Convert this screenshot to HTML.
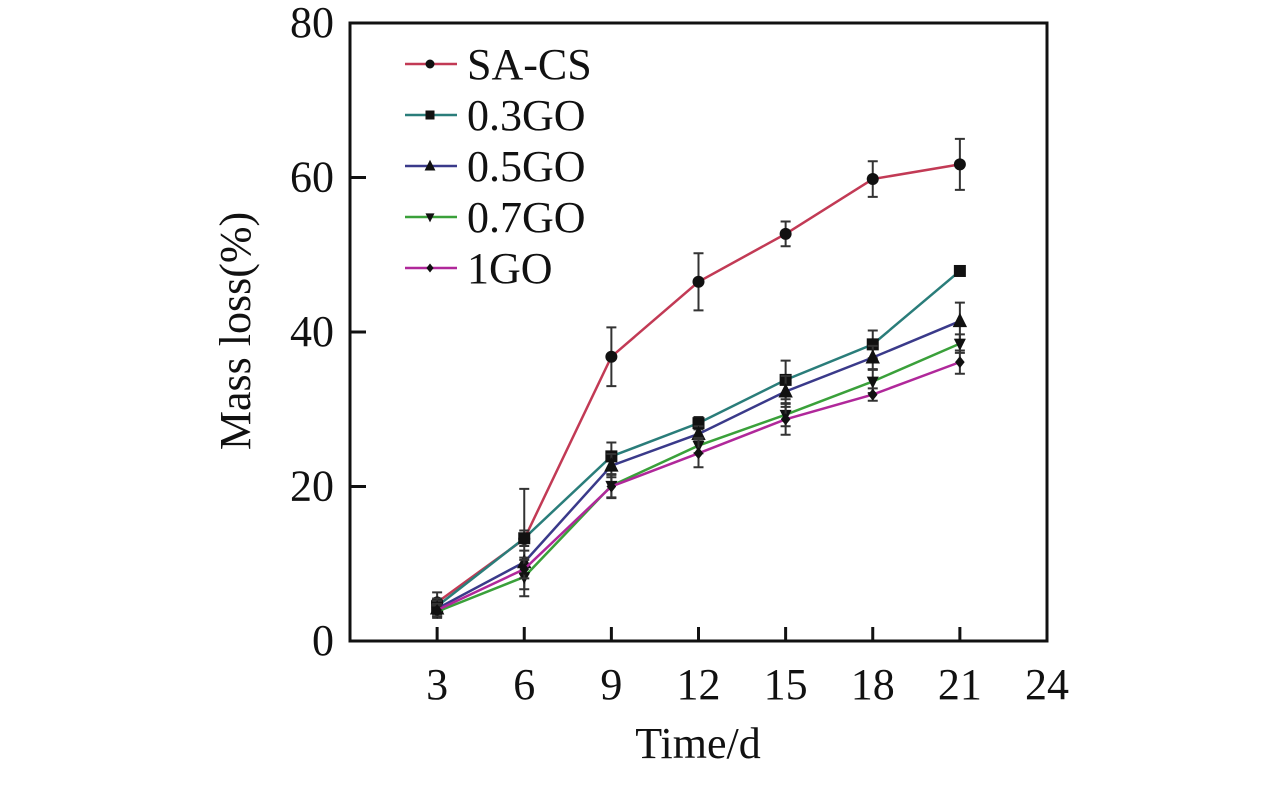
<!DOCTYPE html>
<html><head><meta charset="utf-8"><style>
body{margin:0;background:#fff;}
svg text{font-family:"Liberation Serif",serif;fill:#111;}
</style></head><body>
<svg id="chart" width="1276" height="787" viewBox="0 0 1276 787" xmlns="http://www.w3.org/2000/svg">
<rect x="350" y="23" width="697" height="618" fill="none" stroke="#111" stroke-width="3"/>
<g id="axes"></g>
<g id="series"></g>
<g id="legend"></g>
<text x="698" y="758" font-size="44" text-anchor="middle">Time/d</text>
<text transform="translate(250,331) rotate(-90)" font-size="44" text-anchor="middle">Mass loss(%)</text>
</svg>
<script>
const categories=[3,6,9,12,15,18,21];
const xTicks=[3,6,9,12,15,18,21,24];
const yTicks=[0,20,40,60,80];
const seriesNames=["SA-CS","0.3GO","0.5GO","0.7GO","1GO"];
const saCs=[5.0,13.2,36.8,46.5,52.7,59.8,61.7];
const go03=[4.5,13.3,23.9,28.2,33.8,38.4,47.9];
const go05=[4.2,10.2,22.7,26.8,32.3,36.7,41.4];
const go07=[3.8,8.3,20.1,25.3,29.3,33.6,38.5];
const go1=[4.0,9.3,20.0,24.3,28.7,31.9,36.1];
const errSaCs=[1.3,6.5,3.8,3.7,1.6,2.3,3.3];
const err03=[1.0,1.0,1.8,0.8,2.5,1.8,0.3];
const err05=[1.0,1.5,1.5,1.0,2.0,1.5,2.4];
const err07=[0.8,2.5,1.5,1.0,1.5,1.5,1.2];
const err1=[0.8,1.2,1.5,1.8,2.0,0.8,1.5];
const colors=["#c23a55","#2a7d7a","#3a3a8a","#3aa03a","#b0289a"];
const markers=["circle","square","up","down","diamond"];
const allVals=[saCs,go03,go05,go07,go1];
const allErr=[errSaCs,err03,err05,err07,err1];
const X=v=>350+v*(697/24);
const Y=v=>641-v*(618/80);
const NS="http://www.w3.org/2000/svg";
function mk(tag,attrs,parent){const e=document.createElementNS(NS,tag);for(const k in attrs)e.setAttribute(k,attrs[k]);parent.appendChild(e);return e;}
const axes=document.getElementById('axes');
xTicks.forEach(t=>{
 const l=mk('line',{x1:X(t),x2:X(t),y1:641,y2:627,stroke:'#111','stroke-width':3},axes);
 
 
 const tx=mk('text',{x:X(t),y:699,'font-size':44,'text-anchor':'middle'},axes);tx.textContent=t;
 
 
});
yTicks.forEach(t=>{
 const l=mk('line',{x1:350,x2:366,y1:Y(t),y2:Y(t),stroke:'#111','stroke-width':3},axes);
 
 
 const tx=mk('text',{x:334,y:Y(t)+14,'font-size':44,'text-anchor':'end'},axes);tx.textContent=t;
 
 
});
function marker(type,cx,cy,parent,s){
 let e;
 if(type==='circle')e=mk('circle',{cx,cy,r:5*s,fill:'#111'},parent);
 else if(type==='square')e=mk('rect',{x:cx-5*s,y:cy-5*s,width:10*s,height:10*s,fill:'#111'},parent);
 else if(type==='up')e=mk('polygon',{points:`${cx},${cy-7*s} ${cx-6*s},${cy+5*s} ${cx+6*s},${cy+5*s}`,fill:'#111'},parent);
 else if(type==='down')e=mk('polygon',{points:`${cx},${cy+6*s} ${cx-5*s},${cy-4*s} ${cx+5*s},${cy-4*s}`,fill:'#111'},parent);
 else e=mk('polygon',{points:`${cx},${cy-5*s} ${cx+4*s},${cy} ${cx},${cy+5*s} ${cx-4*s},${cy}`,fill:'#111'},parent);
 return e;
}
const sg=document.getElementById('series');
allVals.forEach((vals,si)=>{
 const g=mk('g',{},sg);
 
 
 vals.forEach((v,i)=>{
  const e=allErr[si][i],x=X(categories[i]);
  const eb=mk('path',{d:`M${x},${Y(v+e)}V${Y(v-e)}M${x-5},${Y(v+e)}H${x+5}M${x-5},${Y(v-e)}H${x+5}`,stroke:'#333','stroke-width':2,fill:'none'},g);
  
  
 });
 const line=mk('polyline',{points:vals.map((v,i)=>X(categories[i])+','+Y(v)).join(' '),fill:'none',stroke:colors[si],'stroke-width':2.5},g);
 
 
 vals.forEach((v,i)=>{
  const m=marker(markers[si],X(categories[i]),Y(v),g,1.2);
  
  
 });
});
const lg=document.getElementById('legend');
seriesNames.forEach((n,i)=>{
 const y=64+i*51;
 const g=mk('g',{},lg);
 
 
 mk('line',{x1:405,x2:457,y1:y,y2:y,stroke:colors[i],'stroke-width':2.5},g);
 marker(markers[i],430,y,g,0.9);
 const t=mk('text',{x:467,y:y+15,'font-size':44},g);t.textContent=n;
});
</script>
</body></html>
